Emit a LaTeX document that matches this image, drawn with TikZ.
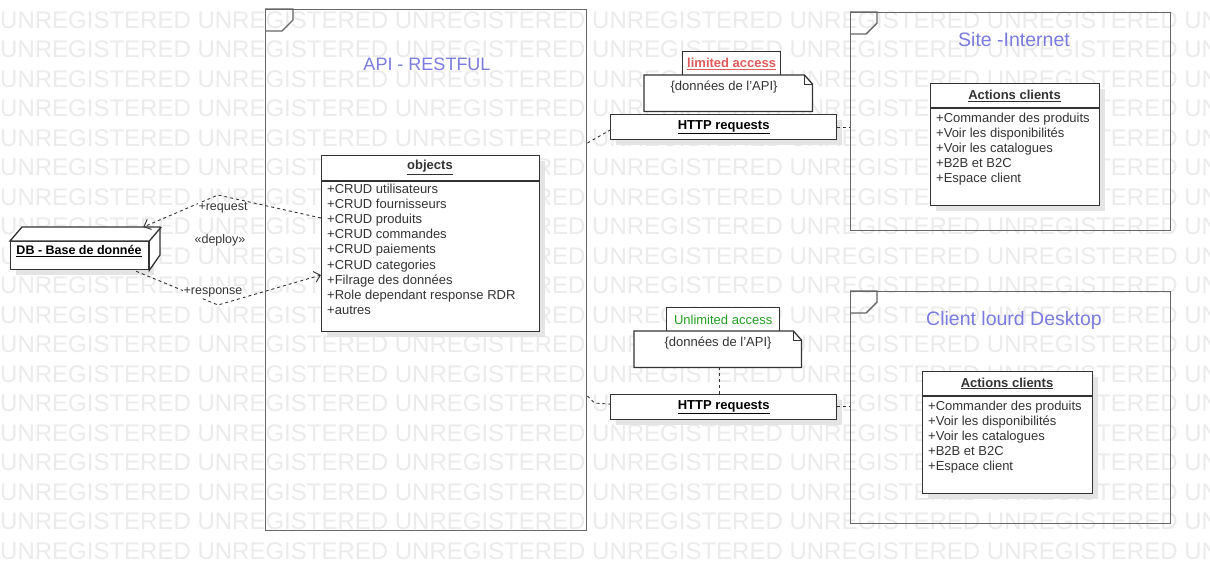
\documentclass[tikz,border=0pt]{standalone}
\usepackage{fontspec}
\setmainfont{Liberation Sans}
\usetikzlibrary{arrows.meta,calc}
\definecolor{frameC}{HTML}{666666}
\definecolor{clsC}{HTML}{333333}
\definecolor{txtC}{HTML}{333333}
\definecolor{titleC}{HTML}{7B7BE0}
\definecolor{redC}{HTML}{E05A5A}
\definecolor{greenC}{HTML}{22A022}
\definecolor{wmC}{HTML}{EBEBEB}
\definecolor{shC}{HTML}{E4E4E4}
\begin{document}
\begin{tikzpicture}[x=1pt,y=-1pt,
  frame/.style={draw=frameC, line width=1.4pt, inner sep=0, anchor=north west},
  tab/.style={draw=frameC, line width=1.4pt},
  cls/.style={draw=clsC, fill=white, line width=1.3pt, inner sep=0, anchor=north west},
  box/.style={draw=clsC, fill=white, line width=1.3pt, inner sep=0, anchor=north west},
  shadowbox/.style={fill=shC},
  attr/.style={anchor=base west, inner sep=0, font=\fontsize{13}{15}\selectfont, text=txtC},
  ctitle/.style={inner sep=0, font=\fontsize{13}{15}\selectfont\bfseries, text=txtC},
  ftitle/.style={inner sep=0, font=\fontsize{18}{20}\selectfont, text=titleC},
  lbl/.style={inner sep=0, font=\fontsize{12.5}{14}\selectfont, text=txtC},
  dep/.style={draw=txtC, dash pattern=on 3pt off 3pt, line width=0.9pt},
  deparrow/.style={dep, -{Straight Barb[length=6pt,width=11pt,line width=0.9pt]}},
  wm/.style={anchor=west, inner sep=0, font=\fontsize{24}{24}\selectfont, text=wmC}
]
\useasboundingbox (0,0) rectangle (1210,570);
\fill[white] (0,0) rectangle (1210,570);
% watermark
\begin{scope}
\clip (0,0) rectangle (1210,570);
\foreach \k in {0,...,19}{
  \node[wm] (wm\k) at (0,{20+29.5*\k}) {UNREGISTERED UNREGISTERED UNREGISTERED UNREGISTERED UNREGISTERED UNREGISTERED UNREGISTERED};
}
\end{scope}

% ---------------- API frame
\node[frame, minimum width=321, minimum height=521] (api) at (265,9) {};
\draw[tab] (api.north west) -- ++(28,0) -- ++(0,11) -- ++(-11,11) -- ++(-17,0);
\node[ftitle] (apiT) at (427,64) {API - RESTFUL};

% objects class
\fill[shadowbox] (327,161) rectangle (545,337);
\node[cls, minimum width=218, minimum height=176] (obj) at (321,155) {};
\draw[draw=clsC, line width=1.3pt] (321,181) -- (539,181);
\node[ctitle] (objT) at (430,167.5) {\underline{objects}};
\foreach \t [count=\i from 0] in {+CRUD utilisateurs,+CRUD fournisseurs,+CRUD produits,+CRUD commandes,+CRUD paiements,+CRUD categories,+Filrage des données,+Role dependant response RDR,+autres}{
  \node[attr] (objA\i) at (327,{193.5+15.1*\i}) {\t};
}

% DB node
\fill[shadowbox] (16,247) rectangle (154,275);
\node[box, minimum width=138, minimum height=28] (db) at (10,241) {};
\filldraw[draw=clsC, fill=white, line width=1.3pt] (db.north west) -- ++(12,-14) -- ++(138,0) -- ++(0,28) -- (db.south east) -- (db.north east) -- cycle;
\draw[draw=clsC, line width=1.3pt] (db.north east) -- ++(12,-14);
\node[inner sep=0, font=\fontsize{12.5}{14}\selectfont\bfseries, text=black] (dbT) at (79,251) {\underline{DB - Base de donnée}};

% request / response
\coordinate (reqB) at (218,195);
\coordinate (resB) at (218,305);
\draw[deparrow] ($(obj.north west)+(0,63)$) -- (reqB) -- ($(db.north east)+(-6,-14)$);
\draw[deparrow] ($(db.south east)+(-13,1)$) -- (resB) -- ($(obj.north west)+(0,120)$);
\node[lbl, fill=white, inner sep=1pt] (reqL) at (223,208) {+request};
\node[lbl] (depL) at (220,240) {«deploy»};
\node[lbl, fill=white, inner sep=1pt] (resL) at (213,292) {+response};

% ---------------- top right: limited access
\node[box, minimum width=98, minimum height=24, font=\fontsize{13}{15}\selectfont\bfseries, text=redC] (lim) at (682,51) {\underline{limited access}};
\node[inner sep=0, minimum width=168, minimum height=36, anchor=north west] (note1) at (644,75) {};
\filldraw[draw=clsC, fill=white, line width=1.3pt] (note1.north west) -- ($(note1.north east)+(-8,0)$) -- ($(note1.north east)+(0,9)$) -- (note1.south east) -- (note1.south west) -- cycle;
\draw[draw=clsC, line width=1pt] ($(note1.north east)+(-8,0)$) -- ($(note1.north east)+(-8,9)$) -- ($(note1.north east)+(0,9)$);
\node[lbl, font=\fontsize{13}{15}\selectfont] (note1T) at (724,87) {\{données de l'API\}};

\fill[shadowbox] (616,120) rectangle (842,145);
\node[box, minimum width=226, minimum height=25, font=\fontsize{13}{15}\selectfont\bfseries, text=black] (http1) at (610,114) {\underline{HTTP requests}};

% ---------------- bottom right: unlimited access
\node[box, minimum width=113, minimum height=24, font=\fontsize{13}{15}\selectfont, text=greenC] (unl) at (666,307) {Unlimited access};
\node[inner sep=0, minimum width=167, minimum height=36, anchor=north west] (note2) at (634,331) {};
\filldraw[draw=clsC, fill=white, line width=1.3pt] (note2.north west) -- ($(note2.north east)+(-8,0)$) -- ($(note2.north east)+(0,9)$) -- (note2.south east) -- (note2.south west) -- cycle;
\draw[draw=clsC, line width=1pt] ($(note2.north east)+(-8,0)$) -- ($(note2.north east)+(-8,9)$) -- ($(note2.north east)+(0,9)$);
\node[lbl, font=\fontsize{13}{15}\selectfont] (note2T) at (718,343) {\{données de l'API\}};

\fill[shadowbox] (616,400) rectangle (842,425);
\node[box, minimum width=226, minimum height=25, font=\fontsize{13}{15}\selectfont\bfseries, text=black] (http2) at (610,394) {\underline{HTTP requests}};

% ---------------- Site frame
\node[frame, minimum width=320, minimum height=218] (site) at (850,12) {};
\draw[tab] (site.north west) -- ++(27,0) -- ++(0,11) -- ++(-11,11) -- ++(-16,0);
\node[ftitle, font=\fontsize{19.5}{22}\selectfont] (siteT) at (1014,40) {Site -Internet};
\fill[shadowbox] (936,89) rectangle (1105,211);
\node[cls, minimum width=169, minimum height=122] (act1) at (930,83) {};
\draw[draw=clsC, line width=1.3pt] (930,108) -- (1099,108);
\node[ctitle] (act1T) at (1014.5,96) {\underline{Actions clients}};
\foreach \t [count=\i from 0] in {+Commander des produits,+Voir les disponibilités,+Voir les catalogues,+B2B et B2C,+Espace client}{
  \node[attr] (act1A\i) at (936,{122.5+15*\i}) {\t};
}

% ---------------- Desktop frame
\node[frame, minimum width=320, minimum height=232] (desk) at (850,291) {};
\draw[tab] (desk.north west) -- ++(27,0) -- ++(0,11) -- ++(-11,11) -- ++(-16,0);
\node[ftitle, font=\fontsize{19.5}{22}\selectfont] (deskT) at (1014,320) {Client lourd Desktop};
\fill[shadowbox] (928,377) rectangle (1098,499);
\node[cls, minimum width=170, minimum height=122] (act2) at (922,371) {};
\draw[draw=clsC, line width=1.3pt] (922,396) -- (1092,396);
\node[ctitle] (act2T) at (1007,383.5) {\underline{Actions clients}};
\foreach \t [count=\i from 0] in {+Commander des produits,+Voir les disponibilités,+Voir les catalogues,+B2B et B2C,+Espace client}{
  \node[attr] (act2A\i) at (928,{410.5+15*\i}) {\t};
}

% ---------------- connectors right side
\draw[dep] ($(api.north east)+(0,134)$) -- ($(http1.west)+(0,3)$);
\draw[dep] (http1.east) -- (site.west |- http1.east);
\draw[dep] ($(api.north east)+(0,387)$) -- ++(7,7) -- ($(http2.west)+(0,-3)$);
\draw[dep] ($(http2.east)+(0,-1)$) -- ($(desk.west |- http2.east)+(0,-1)$);
\draw[dep] ($(note2.south)+(2,0)$) -- ($(note2.south |- http2.north)+(2,0)$);
\end{tikzpicture}
\end{document}
